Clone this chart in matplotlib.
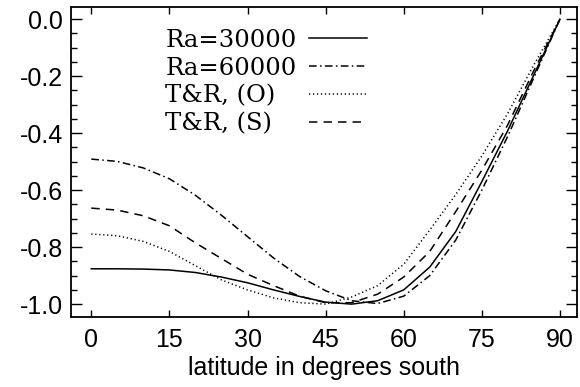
import matplotlib
matplotlib.use("Agg")
import matplotlib.pyplot as plt
from matplotlib.ticker import MultipleLocator

# latitude grid (degrees south)
lat = [0, 5, 10, 15, 20, 25, 30, 35, 40, 45, 50, 55, 60, 65, 70, 75, 80, 85, 90]

# values
ra30000 = [-0.876, -0.876, -0.877, -0.880, -0.889, -0.905, -0.925, -0.950, -0.973, -0.993,
           -1.000, -0.988, -0.950, -0.870, -0.745, -0.570, -0.390, -0.195, 0.0]
ra60000 = [-0.491, -0.499, -0.522, -0.560, -0.618, -0.688, -0.763, -0.838, -0.903, -0.953,
           -0.988, -0.998, -0.972, -0.900, -0.775, -0.600, -0.410, -0.205, 0.0]
tr_o = [-0.754, -0.760, -0.780, -0.815, -0.865, -0.915, -0.950, -0.978, -0.995, -1.000,
        -0.975, -0.935, -0.860, -0.740, -0.615, -0.480, -0.330, -0.160, 0.0]
tr_s = [-0.663, -0.670, -0.690, -0.725, -0.785, -0.840, -0.895, -0.935, -0.972, -0.995,
        -0.995, -0.965, -0.905, -0.815, -0.675, -0.530, -0.370, -0.180, 0.0]

labels = ["Ra=30000", "Ra=60000", "T&R, (O)", "T&R, (S)"]
xticks = [0, 15, 30, 45, 60, 75, 90]
yticks = [0.0, -0.2, -0.4, -0.6, -0.8, -1.0]
ytick_labels = ["0.0", "-0.2", "-0.4", "-0.6", "-0.8", "-1.0"]

plt.rcParams["font.family"] = ["Liberation Sans", "DejaVu Sans"]

fig = plt.figure(figsize=(5.8, 3.87), dpi=100)
ax = fig.add_axes([0.1224, 0.181, 0.8726, 0.801])

lw = 1.1
l1, = ax.plot(lat, ra30000, color="k", lw=lw, linestyle="-")
l2, = ax.plot(lat, ra60000, color="k", lw=lw, linestyle=(0, (5, 2.2, 1, 2.2)))
l3, = ax.plot(lat, tr_o, color="k", lw=lw, linestyle=(0, (0.8, 1.8)))
l4, = ax.plot(lat, tr_s, color="k", lw=lw, linestyle=(0, (5.5, 4)))

ax.set_xlim(-3.9, 93.3)
ax.set_ylim(-1.045, 0.043)

ax.set_xticks(xticks)
ax.set_xticklabels([str(v) for v in xticks])
ax.set_yticks(yticks)
ax.set_yticklabels(ytick_labels)
ax.yaxis.set_minor_locator(MultipleLocator(0.05))

ax.tick_params(axis="both", which="both", direction="in", top=True, right=True,
               labelsize=18, width=1.0)
ax.tick_params(axis="x", which="major", length=5, pad=8)
ax.tick_params(axis="y", which="major", length=8, pad=6)
ax.tick_params(axis="y", which="minor", length=4)
for s in ax.spines.values():
    s.set_linewidth(1.3)

ax.set_xlabel("latitude in degrees south", fontsize=18, labelpad=3)

# legend: left-aligned labels, line samples aligned in a column to the right
handles = [l1, l2, l3, l4]
leg_kw = dict(loc="upper left", bbox_to_anchor=(0.186, 0.929), frameon=False,
              borderpad=0, borderaxespad=0, labelspacing=0.2,
              prop={"family": "DejaVu Serif", "size": 17.5})
leg_text = ax.legend(handles, labels, handlelength=0, handletextpad=0, **leg_kw)
for h in leg_text.legend_handles:
    h.set_visible(False)
ax.add_artist(leg_text)
leg_lines = ax.legend(handles, labels, markerfirst=False, handlelength=2.4,
                      handletextpad=0.5, **leg_kw)
for t in leg_lines.get_texts():
    t.set_alpha(0)

fig.savefig("out.png", dpi=100)
